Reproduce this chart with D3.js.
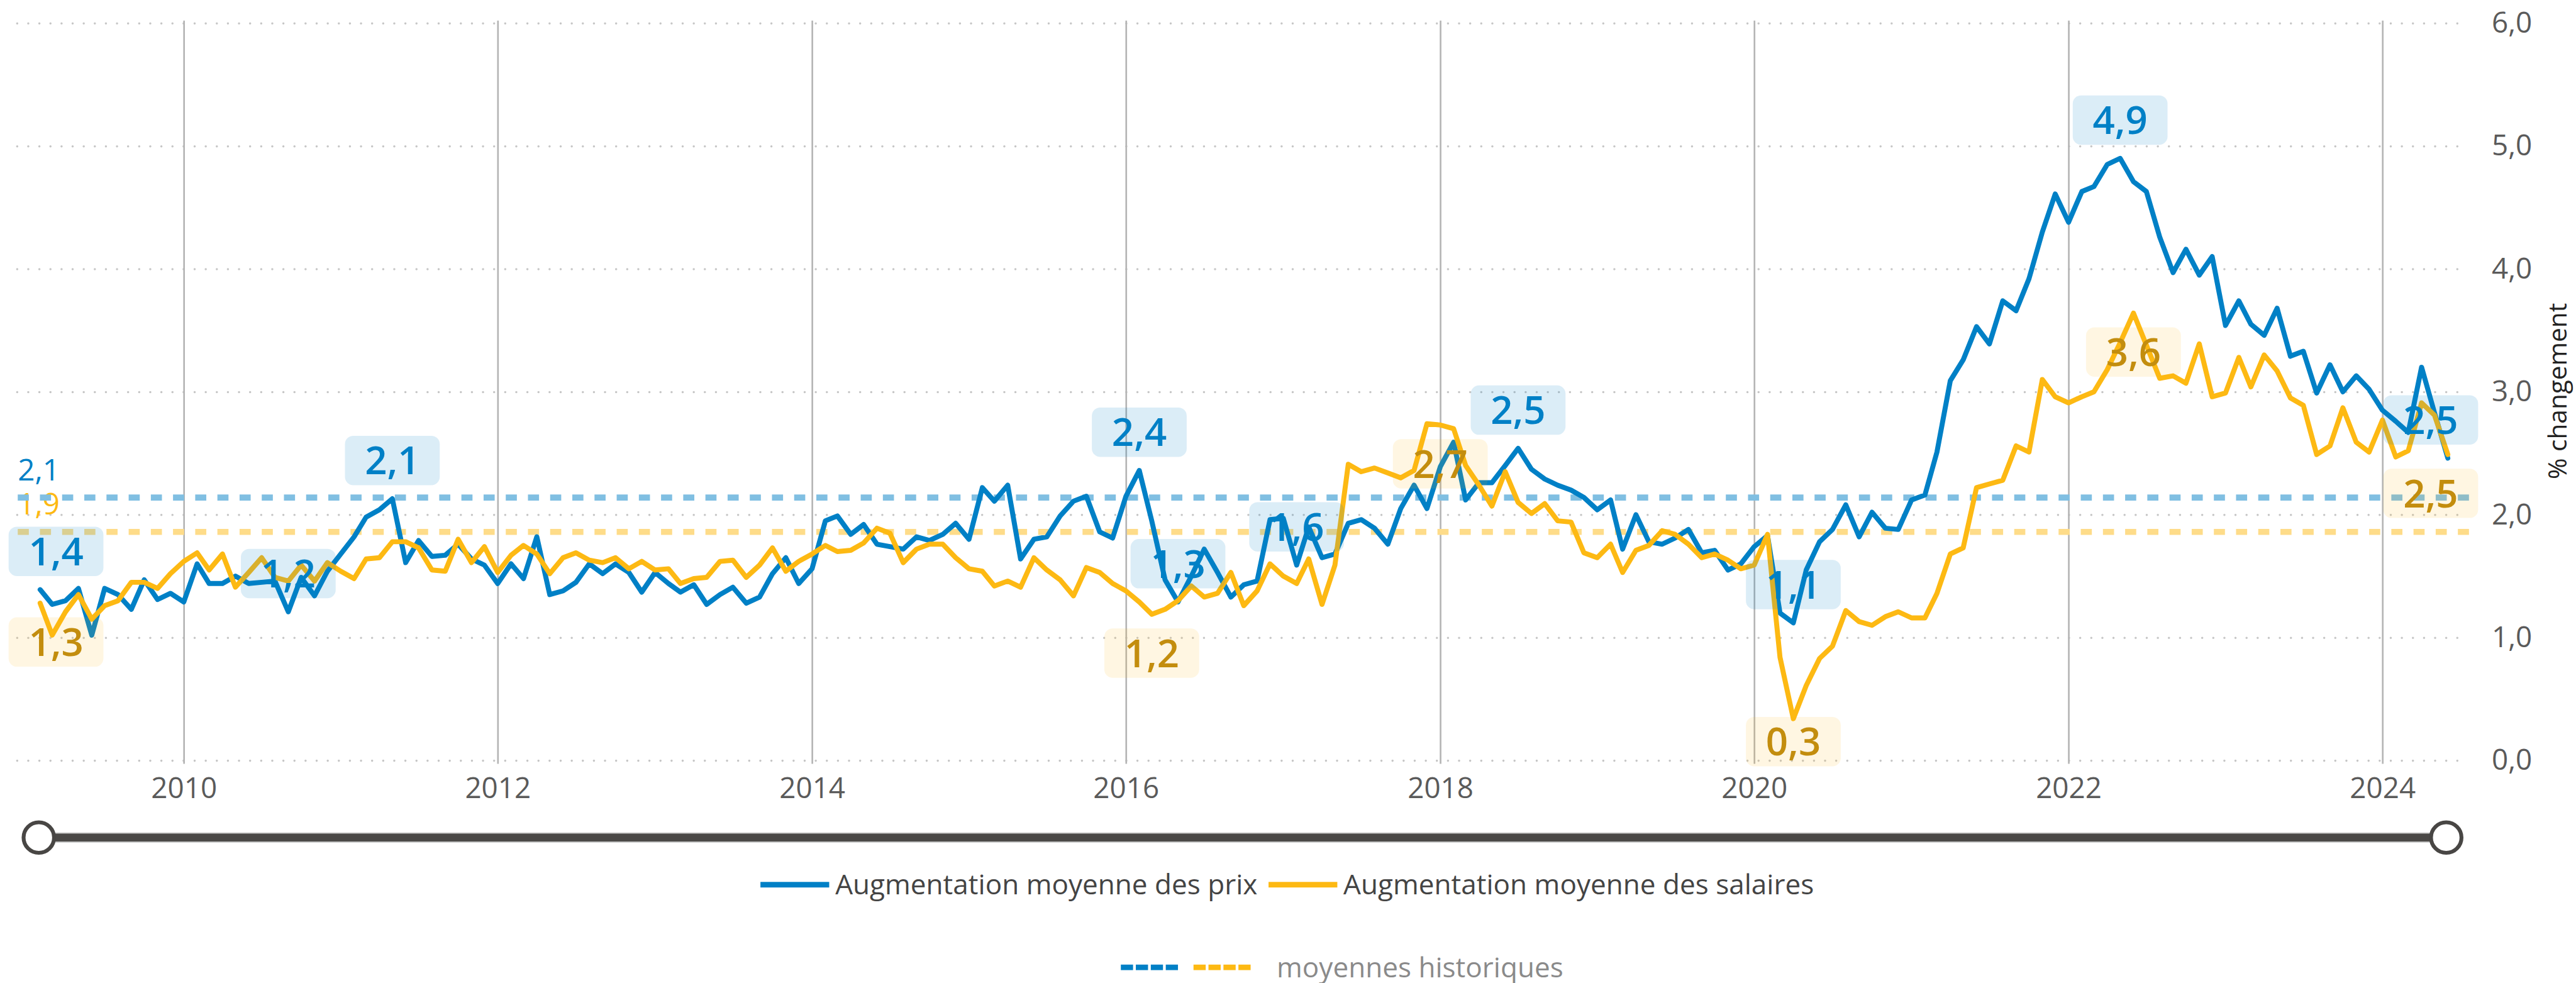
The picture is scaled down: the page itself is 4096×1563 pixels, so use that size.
<!DOCTYPE html>
<html>
<head>
<meta charset="UTF-8">
<title>Prix et salaires</title>
<script src="https://cdn.jsdelivr.net/npm/d3@7"></script>
<style>
body { margin: 0; background: #fff; }
svg { display: block; font-family: "Open Sans", sans-serif; }
</style>
</head>
<body>
<div class="chart"></div>
<script>
// monthly values, February 2009 to June 2024
var firstMonth = [2009, 1];
var prix = [1.39,1.27,1.30,1.40,1.02,1.40,1.35,1.23,1.47,1.31,1.36,1.29,
1.60,1.44,1.44,1.50,1.44,1.45,1.46,1.21,1.49,1.34,1.54,1.68,
1.82,1.98,2.04,2.13,1.61,1.79,1.66,1.67,1.76,1.64,1.59,1.44,
1.60,1.48,1.82,1.35,1.38,1.45,1.60,1.52,1.60,1.53,1.37,1.53,
1.44,1.37,1.43,1.27,1.35,1.41,1.28,1.33,1.52,1.65,1.44,1.56,
1.95,1.99,1.84,1.92,1.76,1.74,1.72,1.82,1.79,1.84,1.93,1.80,
2.22,2.11,2.24,1.64,1.80,1.82,1.99,2.11,2.15,1.86,1.81,2.15,
2.36,1.95,1.47,1.29,1.50,1.72,1.53,1.33,1.43,1.46,1.96,1.97,
1.59,1.90,1.65,1.68,1.93,1.96,1.89,1.76,2.05,2.24,2.05,2.39,
2.59,2.12,2.26,2.26,2.40,2.54,2.37,2.29,2.24,2.20,2.14,2.04,
2.12,1.72,2.00,1.78,1.76,1.81,1.88,1.69,1.71,1.55,1.60,1.74,
1.83,1.20,1.12,1.55,1.78,1.88,2.08,1.82,2.02,1.89,1.88,2.12,
2.16,2.51,3.09,3.26,3.53,3.39,3.74,3.66,3.92,4.30,4.61,4.38,
4.63,4.67,4.85,4.90,4.71,4.63,4.26,3.97,4.16,3.95,4.10,3.54,
3.74,3.55,3.46,3.68,3.29,3.33,2.99,3.22,3.00,3.13,3.02,2.85,
2.76,2.67,3.20,2.83,2.46];
var salaires = [1.28,1.02,1.21,1.35,1.15,1.26,1.30,1.45,1.45,1.40,1.52,1.62,
1.69,1.55,1.68,1.41,1.53,1.65,1.49,1.46,1.59,1.46,1.61,1.54,
1.48,1.64,1.65,1.78,1.78,1.73,1.55,1.54,1.80,1.61,1.74,1.53,
1.67,1.75,1.68,1.52,1.65,1.69,1.63,1.61,1.65,1.56,1.62,1.55,
1.56,1.44,1.48,1.49,1.62,1.63,1.49,1.59,1.73,1.54,1.62,1.68,
1.75,1.70,1.71,1.77,1.89,1.85,1.61,1.72,1.76,1.76,1.65,1.56,
1.54,1.42,1.46,1.41,1.65,1.55,1.47,1.34,1.57,1.53,1.44,1.38,
1.29,1.19,1.23,1.30,1.42,1.33,1.36,1.53,1.26,1.38,1.60,1.50,
1.44,1.64,1.27,1.59,2.41,2.35,2.38,2.34,2.30,2.36,2.74,2.73,
2.70,2.40,2.24,2.07,2.35,2.10,2.01,2.09,1.95,1.94,1.69,1.65,
1.76,1.53,1.71,1.75,1.87,1.84,1.76,1.65,1.68,1.63,1.56,1.59,
1.84,0.84,0.34,0.61,0.83,0.93,1.22,1.13,1.10,1.17,1.21,1.16,
1.16,1.36,1.68,1.73,2.22,2.25,2.28,2.56,2.51,3.10,2.96,2.91,
2.96,3.00,3.18,3.40,3.64,3.38,3.11,3.13,3.07,3.39,2.96,2.99,
3.28,3.04,3.30,3.17,2.95,2.89,2.49,2.56,2.87,2.59,2.51,2.77,
2.47,2.52,2.91,2.81,2.49];
var moyennes = [2.14, 1.86];           // prix, salaires
var labelsPrix = [0, 19, 27, 84, 87, 96, 113, 134, 159, 184];
var labelsSalaires = [0, 85, 107, 134, 160, 184];
var yTicks = [0, 1, 2, 3, 4, 5, 6];
var yearTicks = [2010, 2012, 2014, 2016, 2018, 2020, 2022, 2024];
var seriesNames = ["Augmentation moyenne des prix", "Augmentation moyenne des salaires"];
var avgName = "moyennes historiques";
var yTitle = "% changement";

var blue = "#0080c6", yellow = "#fdb913", gold = "#c38d0e";
var W = 4645, H = 1772;

var svg = d3.select(".chart").append("svg")
  .attr("width", 4096).attr("height", 1563)
  .attr("viewBox", "0 0 " + W + " " + H);

var dates = prix.map(function(d, i){ return new Date(firstMonth[0], firstMonth[1] + i, 1); });
var x = d3.scaleTime().domain([new Date(2010,0,1), new Date(2024,0,1)]).range([331.4, 4296]);
var y = d3.scaleLinear().domain([0, 6]).range([1371, 41.5]);
var fmt = function(v){ return v.toFixed(1).replace(".", ","); };

// y axis, dotted grid
var yAxis = svg.append("g")
  .attr("transform", "translate(31,0)")
  .call(d3.axisRight(y).tickValues(yTicks).tickSize(4420).tickPadding(42).tickFormat(fmt));
yAxis.select(".domain").remove();
yAxis.selectAll("line")
  .attr("stroke", "#c6c6c6").attr("stroke-width", 4)
  .attr("stroke-linecap", "round").attr("stroke-dasharray", "0,20");
yAxis.selectAll("text")
  .attr("font-size", 52).attr("fill", "#5a5a5a").attr("font-family", "Open Sans");

// x axis, year lines
var xAxis = svg.append("g")
  .attr("transform", "translate(0,1377)")
  .call(d3.axisBottom(x)
    .tickValues(yearTicks.map(function(t){ return new Date(t,0,1); }))
    .tickSize(-1340).tickPadding(25)
    .tickFormat(d3.timeFormat("%Y")));
xAxis.select(".domain").remove();
xAxis.selectAll("line").attr("stroke", "#b5b5b5").attr("stroke-width", 3);
xAxis.selectAll("text")
  .attr("font-size", 52).attr("fill", "#5a5a5a").attr("font-family", "Open Sans");

// historical averages
var avgColors = [blue, yellow];
var avgLight = ["#80bfe2", "#fedc89"];
svg.append("g").selectAll("text").data(moyennes).enter().append("text")
  .attr("x", 32).attr("y", function(d){ return y(d) - 31; })
  .attr("font-size", 54).attr("fill", function(d, i){ return avgColors[i]; })
  .text(fmt);
svg.append("g").selectAll("line").data(moyennes).enter().append("line")
  .attr("x1", 32).attr("x2", 4452)
  .attr("y1", function(d){ return y(d); }).attr("y2", function(d){ return y(d); })
  .attr("stroke", function(d, i){ return avgLight[i]; })
  .attr("stroke-width", 11).attr("stroke-dasharray", "20,20");

// series lines
var line = d3.line()
  .x(function(d, i){ return x(dates[i]); })
  .y(function(d){ return y(d); });
[[prix, blue], [salaires, yellow]].forEach(function(s){
  svg.append("path").datum(s[0])
    .attr("d", line).attr("fill", "none")
    .attr("stroke", s[1]).attr("stroke-width", 9)
    .attr("stroke-linejoin", "round").attr("stroke-linecap", "round");
});

// value labels
function addLabels(values, idx, above, boxFill, textColor){
  var g = svg.append("g").selectAll("g").data(idx).enter().append("g")
    .attr("transform", function(i){
      var cx = Math.max(101, Math.min(4383, x(dates[i])));
      var cy = above ? y(values[i]) - 69 : Math.min(1337, y(values[i]) + 70);
      return "translate(" + cx + "," + cy + ")";
    });
  g.append("rect")
    .attr("x", -85.5).attr("y", -44.5).attr("width", 171).attr("height", 89)
    .attr("rx", 15).attr("fill", boxFill);
  g.append("text")
    .attr("text-anchor", "middle").attr("dy", "0.36em")
    .attr("font-size", 70).attr("font-weight", 600).attr("fill", textColor)
    .text(function(i){ return fmt(values[i]); });
}
addLabels(prix, labelsPrix, true, "rgba(0,128,198,0.14)", blue);
addLabels(salaires, labelsSalaires, false, "rgba(253,185,19,0.12)", gold);

// axis title
svg.append("text")
  .attr("transform", "translate(4628,705) rotate(-90)")
  .attr("text-anchor", "middle").attr("font-size", 46).attr("fill", "#222")
  .text(yTitle);

// navigator
svg.append("rect")
  .attr("x", 70).attr("y", 1502).attr("width", 4341).attr("height", 16)
  .attr("fill", "#4a4846").attr("stroke", "#bdbdbd").attr("stroke-width", 2);
svg.append("g").selectAll("circle").data([70, 4411]).enter().append("circle")
  .attr("cx", function(d){ return d; }).attr("cy", 1510).attr("r", 27.5)
  .attr("fill", "#fff").attr("stroke", "#484644").attr("stroke-width", 7);

// legend row 1
var leg = svg.append("g");
var lx = 0;
seriesNames.forEach(function(name, i){
  leg.append("rect").attr("x", lx).attr("y", -5).attr("width", 124).attr("height", 10)
    .attr("fill", avgColors[i]);
  var t = leg.append("text").attr("x", lx + 135).attr("dy", "0.35em")
    .attr("font-size", 50).attr("fill", "#444").text(name);
  lx += 135 + t.node().getComputedTextLength() + 20;
});
leg.attr("transform", "translate(" + (2321 - (lx - 20) / 2) + ",1595)");

// legend row 2
var leg2 = svg.append("g");
avgLight.forEach(function(c, i){
  leg2.append("line").attr("x1", i * 131).attr("x2", i * 131 + 103)
    .attr("stroke", avgColors[i]).attr("stroke-width", 10).attr("stroke-dasharray", "22,5");
});
var t2 = leg2.append("text").attr("x", 281).attr("dy", "0.35em")
  .attr("font-size", 50).attr("fill", "#8a8a8a").text(avgName);
var w2 = 281 + t2.node().getComputedTextLength();
leg2.attr("transform", "translate(" + (2420 - w2 / 2) + ",1744)");
</script>
</body>
</html>
